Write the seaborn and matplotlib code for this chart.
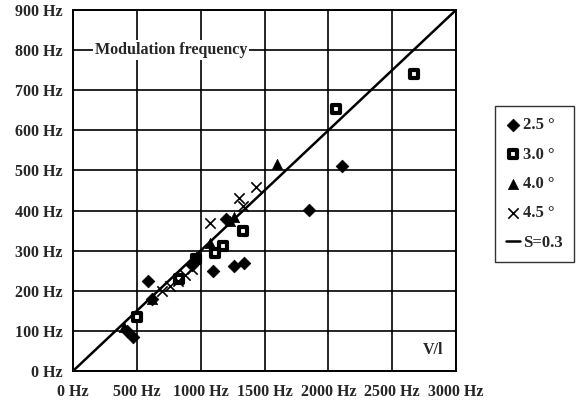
import matplotlib
matplotlib.use("Agg")
import matplotlib.pyplot as plt
import seaborn as sns
import pandas as pd
from matplotlib.ticker import MultipleLocator, FuncFormatter

# ---- data ----
x_25 = [420, 470, 590, 620, 930, 1100, 1260, 1340, 1200, 1850, 2110]
y_25 = [100, 85, 225, 180, 265, 250, 262, 270, 380, 402, 510]

x_30 = [505, 830, 960, 1110, 1175, 1330, 2060, 2670]
y_30 = [135, 230, 280, 295, 312, 350, 652, 741]

x_40 = [400, 620, 960, 1070, 1230, 1260, 1600]
y_40 = [110, 180, 285, 320, 375, 385, 515]

x_45 = [700, 760, 820, 880, 930, 1070, 1300, 1330, 1430]
y_45 = [200, 212, 225, 240, 255, 370, 432, 412, 458]

line_x = [0, 3000]
line_y = [0, 900]

series_labels = ["2.5 °", "3.0 °", "4.0 °", "4.5 °"]
line_label = "S=0.3"
x_ticks = [0, 500, 1000, 1500, 2000, 2500, 3000]
y_ticks = [0, 100, 200, 300, 400, 500, 600, 700, 800, 900]
title_text = "Modulation frequency"
axis_note = "V/l"

FS = 11.5

sns.set_style("white")
plt.rcParams["font.family"] = ["Liberation Serif", "DejaVu Serif"]
plt.rcParams["font.weight"] = "bold"

fig = plt.figure(figsize=(5.82, 4.04), dpi=100)
ax = fig.add_axes([73 / 582, 1 - 371 / 404, (456 - 73) / 582, (371 - 10) / 404])

frames = []
for xs, ys, lab in zip([x_25, x_30, x_40, x_45], [y_25, y_30, y_40, y_45], series_labels):
    frames.append(pd.DataFrame({"x": xs, "y": ys, "s": lab}))
df = pd.concat(frames, ignore_index=True)

sns.lineplot(x=line_x, y=line_y, ax=ax, color="black", linewidth=1.8, label=line_label, zorder=3)

sns.scatterplot(data=df[df.s == series_labels[0]], x="x", y="y", ax=ax, marker="D", s=42,
                color="black", edgecolor="black", linewidth=0.5, label=series_labels[0], zorder=4)
sns.scatterplot(data=df[df.s == series_labels[1]], x="x", y="y", ax=ax, marker="s", s=26,
                facecolor="white", edgecolor="black", linewidth=3.0, label=series_labels[1], zorder=4)
sns.scatterplot(data=df[df.s == series_labels[2]], x="x", y="y", ax=ax, marker="^", s=55,
                color="black", edgecolor="black", linewidth=0.5, label=series_labels[2], zorder=4)
sns.scatterplot(data=df[df.s == series_labels[3]], x="x", y="y", ax=ax, marker="x", s=55,
                color="black", linewidth=1.2, label=series_labels[3], zorder=4)

ax.set_xlim(0, 3000)
ax.set_ylim(0, 900)
ax.set_xticks(x_ticks)
ax.set_yticks(y_ticks)
ax.xaxis.set_minor_locator(MultipleLocator(100))
ax.yaxis.set_minor_locator(MultipleLocator(20))
fmt = FuncFormatter(lambda v, p: f"{int(v)} Hz")
ax.xaxis.set_major_formatter(fmt)
ax.yaxis.set_major_formatter(fmt)
ax.tick_params(which="major", direction="inout", length=6, width=1.2, labelsize=FS, color="black")
ax.tick_params(axis="x", which="major", pad=6.5)
ax.tick_params(axis="y", which="major", pad=4.5)
ax.tick_params(which="minor", direction="in", length=3.5, width=1.0, color="black")
for lab in ax.get_xticklabels() + ax.get_yticklabels():
    lab.set_fontweight("bold")
ax.grid(True, which="major", color="black", linewidth=1.2)
ax.set_axisbelow(True)
for sp in ax.spines.values():
    sp.set_color("black")
    sp.set_linewidth(1.4)
ax.set_xlabel("")
ax.set_ylabel("")

ax.text(170, 800, title_text, ha="left", va="center", fontsize=FS, fontweight="bold",
        bbox=dict(facecolor="white", edgecolor="none", pad=1.5), zorder=5)
ax.text(2740, 52, axis_note, ha="left", va="center", fontsize=FS, fontweight="bold", zorder=5)

handles, labels = ax.get_legend_handles_labels()
order = [labels.index(l) for l in series_labels + [line_label]]
leg = ax.legend([handles[i] for i in order], [labels[i] for i in order],
                loc="upper left", bbox_to_anchor=(495 / 582, 1 - 106 / 404),
                bbox_transform=fig.transFigure, frameon=True, fancybox=False,
                edgecolor="black", labelspacing=0.8, handlelength=0.8,
                handletextpad=0.2, borderpad=0.68, borderaxespad=0,
                prop={"weight": "bold", "size": 12})
leg.get_frame().set_linewidth(1.0)

fig.savefig("out.png", dpi=100)
